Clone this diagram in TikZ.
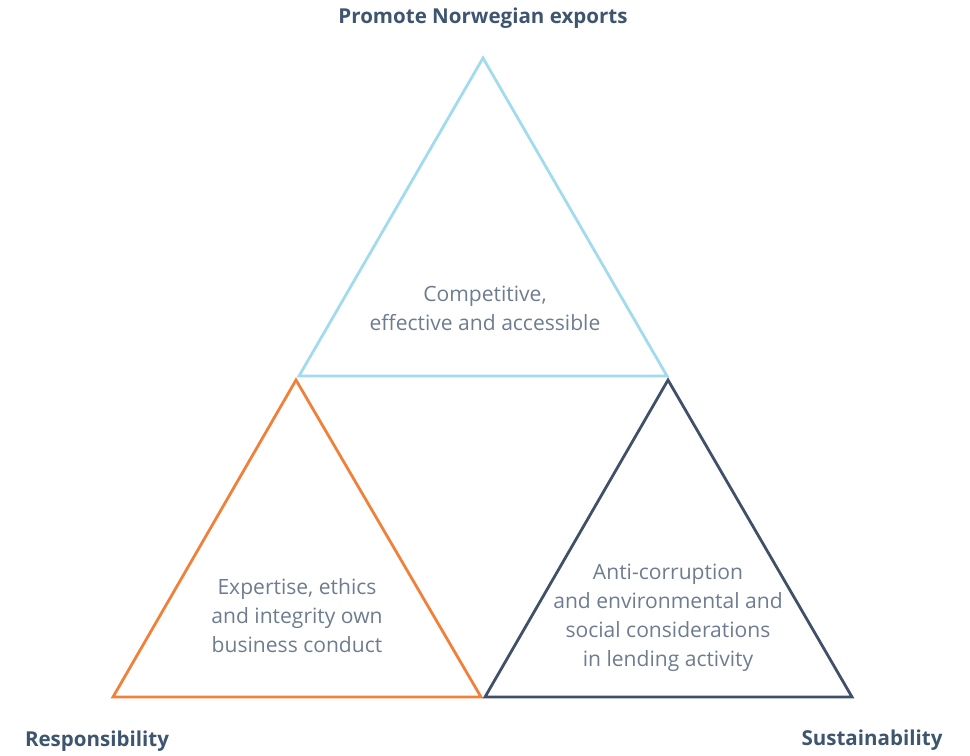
\documentclass[tikz,border=0pt]{standalone}
\usepackage{fontspec}
\setmainfont{Open Sans}
\usetikzlibrary{calc,positioning}
\definecolor{skyline}{HTML}{A3DBEE}
\definecolor{orangeline}{HTML}{F0803A}
\definecolor{slateline}{HTML}{3F5068}
\definecolor{bodytext}{HTML}{6E7C90}
\definecolor{headtext}{HTML}{3E556F}
\tikzset{corner/.style={line width=2.1pt,line join=miter}}
\tikzset{heading/.style={%
        font=\fontsize{15.4}{18}\selectfont\bfseries,
        text=headtext,
        inner sep=0pt}}
\tikzset{caption/.style={%
        font=\fontsize{15.8}{21.8}\selectfont,
        text=bodytext,
        align=center,
        inner sep=0pt}}

\begin{document}
\begin{tikzpicture}[x=0.75pt,y=-0.75pt]
  \useasboundingbox (0,0) rectangle (970,756);
  % corners of the three triangles
  \coordinate (ta) at (483,58);
  \coordinate (tl) at (299,376);
  \coordinate (tr) at (667,376);
  \coordinate (la) at (296,380);
  \coordinate (ll) at (113,697);
  \coordinate (lr) at (481,697);
  \coordinate (ra) at (668,380);
  \coordinate (rl) at (485,697);
  \coordinate (rr) at (852,697);
  \draw [corner,skyline] (ta) -- (tl) -- (tr) -- cycle;
  \draw [corner,orangeline] (la) -- (ll) -- (lr) -- cycle;
  \draw [corner,slateline] (ra) -- (rl) -- (rr) -- cycle;
  % texts inside
  \node [caption] (compete) at (485,308) {Competitive,\\effective and accessible};
  \node [caption] (expert) at (297,616) {Expertise, ethics\\and integrity own\\business conduct};
  \node [caption] (anti) at (668,618) {Anti-corruption\\and environmental and\\social considerations\\in lending activity};
  % headings
  \node [heading] (exports) at (483,18) {Promote Norwegian exports};
  \node [heading] (respons) at (97,741) {Responsibility};
  \node [heading] (sustain) at (872,740) {Sustainability};
\end{tikzpicture}
\end{document}
